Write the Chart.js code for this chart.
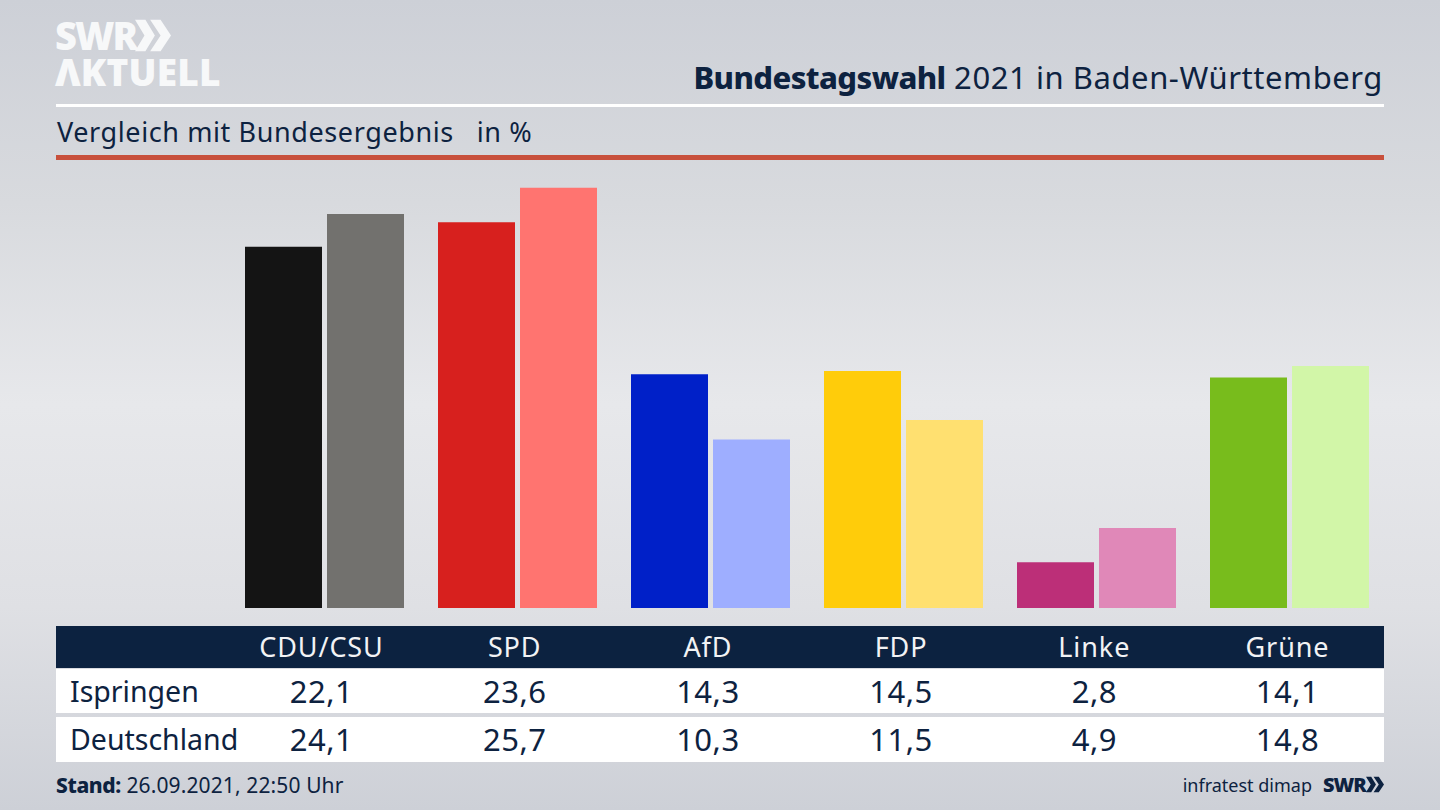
<!DOCTYPE html>
<html lang="de"><head><meta charset="utf-8">
<script src="https://cdn.jsdelivr.net/npm/chart.js@4"></script>
<style>
html,body{margin:0;padding:0}
body{width:1440px;height:810px;overflow:hidden;position:relative;font-family:"Noto Sans",sans-serif;color:#0d2240;
background:linear-gradient(180deg,#cdd0d7 0%,#d8dade 25%,#e7e8eb 50%,#dfe0e4 75%,#cdd0d7 100%)}
.a{position:absolute;white-space:nowrap}
#wrap{position:absolute;left:228px;top:160px;width:1158px;height:448px}
.bar{position:absolute;left:56px;width:1328px}
.cell{position:absolute;top:0;width:193px;text-align:center;transform:translateX(-96.5px)}
</style></head><body>
<div class="a" id="logo1" style="left:55px;top:13px;font:800 38px/44px 'Open Sans';color:#f7f8f9;letter-spacing:-2px">SWR</div>
<svg class="a" style="left:135px;top:19px" width="36" height="33" viewBox="0 0 38 33"><path d="M0 0h11l10 16.5L11 33H0l10-16.5zM16 0h11l11 16.5L27 33H16l11-16.5z" fill="#f7f8f9"/></svg>
<div class="a" style="left:55px;top:50px;font:800 37px/44px 'Open Sans';color:#f7f8f9;letter-spacing:0.2px">ΛKTUELL</div>
<div class="a" id="title" style="right:57px;top:56px;font-size:31px;line-height:42px;letter-spacing:0.56px"><b style="font-weight:800;letter-spacing:-0.6px">Bundestagswahl</b> 2021 in Baden-Württemberg</div>
<div class="a" style="left:56px;top:104px;width:1328px;height:3px;background:#fff"></div>
<div class="a" id="sub" style="left:57px;top:112px;font-size:27px;line-height:40px;letter-spacing:0.6px">Vergleich mit Bundesergebnis &nbsp; in %</div>
<div class="a" style="left:56px;top:155px;width:1328px;height:5px;background:#c8503c"></div>
<div id="wrap"><canvas id="c"></canvas></div>
<div class="bar" id="head" style="top:626px;height:42px;background:#0c2240;color:#f2f3f5;font-size:27px;line-height:42px;letter-spacing:0.9px"></div>
<div class="bar" id="r1" style="top:669px;height:44px;background:#fff;font-size:31px;line-height:44px;letter-spacing:0.5px"></div>
<div class="bar" id="r2" style="top:717px;height:45px;background:#fff;font-size:31px;line-height:45px;letter-spacing:0.5px"></div>
<div class="a" style="left:56px;top:770px;font-size:21px;line-height:30px;letter-spacing:0.12px"><b style="font-weight:800;letter-spacing:-0.4px">Stand:</b> 26.09.2021, 22:50 Uhr</div>
<div class="a" style="right:128px;top:770px;font-size:18px;line-height:30px">infratest dimap</div>
<div class="a" style="left:1323px;top:770px;font:800 20px/30px 'Open Sans';letter-spacing:-1px">SWR</div>
<svg class="a" style="left:1366px;top:776px" width="18" height="17" viewBox="0 0 38 33"><path d="M0 0h11l10 16.5L11 33H0l10-16.5zM16 0h11l11 16.5L27 33H16l11-16.5z" fill="#0d2240"/></svg>
<script>
const categories=["CDU/CSU","SPD","AfD","FDP","Linke","Grüne"];
const rowLabels=["Ispringen","Deutschland"];
const ispringen=[22.1,23.6,14.3,14.5,2.8,14.1];
const deutschland=[24.1,25.7,10.3,11.5,4.9,14.8];
const colorsIspringen=["#141414","#d7201e","#0020c8","#ffcc0a","#bc2f78","#78bc1c"];
const colorsDeutschland=["#72716e","#ff7470","#9eaeff","#ffe070","#e088b8","#d2f6a8"];
const fmt=v=>v.toFixed(1).replace(".",",");
function cells(el,vals,label){
  const h=document.getElementById(el);
  if(label){const s=document.createElement("div");s.className="a";s.style.left="14px";s.style.fontSize="28.5px";s.style.letterSpacing="0";s.textContent=label;h.appendChild(s);}
  vals.forEach((v,i)=>{const d=document.createElement("div");d.className="cell";d.style.left=(265.5+193.2*i)+"px";d.textContent=v;h.appendChild(d);});
}
cells("head",categories);
cells("r1",ispringen.map(fmt),rowLabels[0]);
cells("r2",deutschland.map(fmt),rowLabels[1]);
new Chart(document.getElementById("c"),{type:"bar",data:{labels:categories,datasets:[
 {label:rowLabels[0],data:ispringen,backgroundColor:colorsIspringen,categoryPercentage:164/193,barPercentage:77/82},
 {label:rowLabels[1],data:deutschland,backgroundColor:colorsDeutschland,categoryPercentage:164/193,barPercentage:77/82}]},
 options:{responsive:true,maintainAspectRatio:false,animation:false,layout:{padding:0},
 plugins:{legend:{display:false},tooltip:{enabled:false}},
 scales:{x:{display:false},y:{display:false,min:0,max:27.4}}}});
</script>
</body></html>
